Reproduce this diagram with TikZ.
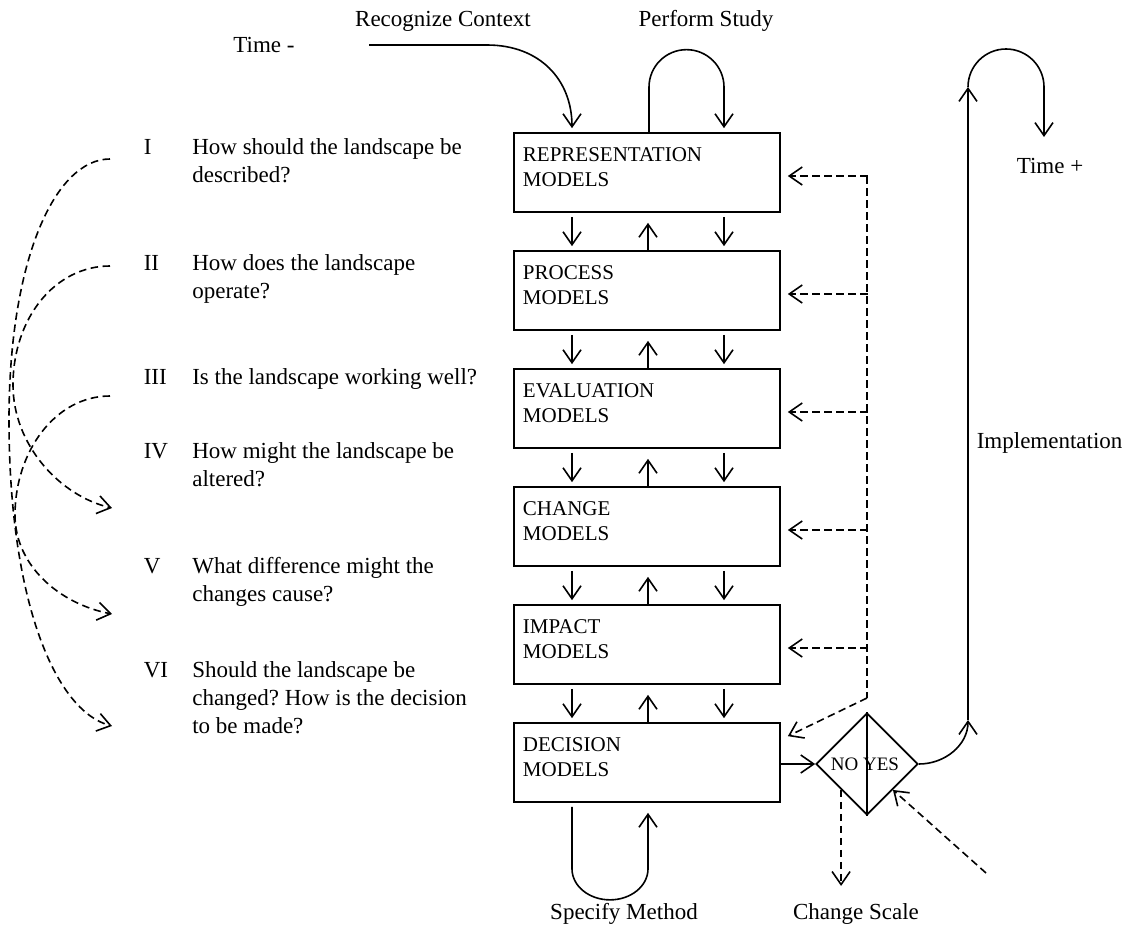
\documentclass[tikz,border=0pt]{standalone}
\usepackage{fontspec}
\setmainfont{Liberation Serif}
\frenchspacing
\usetikzlibrary{arrows.meta,shapes.geometric,calc}
\begin{document}
\begin{tikzpicture}[x=1pt,y=1pt,
  line width=1.6pt,
  arr/.style={-{Straight Barb[length=13pt,width=18pt,line width=1.6pt]}},
  dsh/.style={dash pattern=on 7.5pt off 4.5pt},
  box/.style={draw, line width=1.7pt, minimum width=266pt, minimum height=79pt, inner sep=0pt},
  lab/.style={inner sep=0pt, font=\fontsize{23}{26}\selectfont},
  btxt/.style={inner sep=0pt, anchor=base west, font=\fontsize{21}{25}\selectfont},
]
\useasboundingbox (0,0) rectangle (1140,-926);

% boxes
\foreach \n/\k in {rep/0, pro/1, eva/2, cha/3, imp/4, dec/5}
  \node[box] (\n) at (647,{-172.5-118*\k}) {};
\foreach \n/\t in {rep/REPRESENTATION, pro/PROCESS, eva/EVALUATION, cha/CHANGE, imp/IMPACT, dec/DECISION}{
  \node[btxt] (\n-a) at ($(\n.north west)+(9,-29)$) {\t};
  \node[btxt] (\n-b) at ($(\n.north west)+(9,-54)$) {MODELS};
}

% arrows between boxes
\foreach \a/\b in {rep/pro, pro/eva, eva/cha, cha/imp, imp/dec}{
  \draw[arr] ($(\a.south)+(-75,-4)$) -- ($(\b.north)+(-75,4)$);
  \draw[arr] ($(\b.north)+(1,0)$) -- ($(\a.south)+(1,-10)$);
  \draw[arr] ($(\a.south)+(77,-4)$) -- ($(\b.north)+(77,4)$);
}

% top labels and loops
\node[lab,anchor=base] (rc) at (443,-26) {Recognize Context};
\node[lab,anchor=base] (ps) at (706,-26) {Perform Study};
\node[lab,anchor=base] (tm) at (264,-52) {Time -};
\coordinate (tl) at (369,-45);
\draw[arr] (tl) -- (487,-45) .. controls (540,-45) and (572,-80) .. ($(rep.north)+(-75,4)$);
\draw[arr] ($(rep.north)+(2,0)$) -- ++(0,45) arc[start angle=180,end angle=0,radius=37.5] -- ($(rep.north)+(77,4)$);

% decision loop
\draw[arr] ($(dec.south)+(-75,-4)$) -- ++(0,-62) arc[start angle=180,end angle=360,x radius=38,y radius=31] -- ($(dec.south)+(1,-10)$);
\node[lab,anchor=base] (sm) at (624,-919) {Specify Method};

% right dashed feedback
\coordinate (vt) at (867,-176);
\coordinate (vb) at (867,-698);
\draw[dsh] (vt) -- (vb);
\foreach \n in {rep,pro,eva,cha,imp}
  \draw[dsh,arr] ($(\n.east)+(87,-3.5)$) -- ($(\n.east)+(7,-3.5)$);
\draw[dsh,arr] (vb) -- ($(dec.north east)+(7,-14)$);

% diamond
\node[draw, diamond, minimum width=102pt, minimum height=102pt, inner sep=0pt, line width=1.7pt] (dia) at (867,-764) {};
\draw (dia.north) -- (dia.south);
\node[inner sep=0pt, font=\fontsize{19}{21}\selectfont] (ny) at (865,-764) {NO YES};
\draw[arr] (dec.east |- dia.west) -- (dia.west);
\draw[dsh,arr] ($(dia.west)!0.5!(dia.south)$) -- ++(0,-96);
\node[lab,anchor=base] (cs) at (856,-919) {Change Scale};
\coordinate (cst) at (986,-873);
\draw[dsh,arr] (cst) -- (dia.south east);

% implementation
\coordinate (j) at (968,-720);
\coordinate (jt) at (968,-87);
\draw[arr] (dia.east) .. controls (945,-764) and (968,-745) .. (j);
\draw[arr] (j) -- (jt);
\draw[arr] (jt) arc[start angle=180,end angle=0,radius=38] -- ++(0,-50);
\node[lab,anchor=base] (tp) at (1050,-173) {Time +};
\node[lab,anchor=base west] (impl) at (976,-448) {Implementation};

% left questions
\node[lab,anchor=base west] (n1) at (143,-154) {I};
\node[lab,anchor=base west] (q1a) at (191.5,-154) {How should the landscape be};
\node[lab,anchor=base west] (q1b) at (191.5,-182) {described?};
\node[lab,anchor=base west] (n2) at (143,-270) {II};
\node[lab,anchor=base west] (q2a) at (191.5,-270) {How does the landscape};
\node[lab,anchor=base west] (q2b) at (191.5,-298) {operate?};
\node[lab,anchor=base west] (n3) at (143,-384) {III};
\node[lab,anchor=base west] (q3a) at (191.5,-384) {Is the landscape working well?};
\node[lab,anchor=base west] (n4) at (143,-458) {IV};
\node[lab,anchor=base west] (q4a) at (191.5,-458) {How might the landscape be};
\node[lab,anchor=base west] (q4b) at (191.5,-486) {altered?};
\node[lab,anchor=base west] (n5) at (143,-573) {V};
\node[lab,anchor=base west] (q5a) at (191.5,-573) {What difference might the};
\node[lab,anchor=base west] (q5b) at (191.5,-601) {changes cause?};
\node[lab,anchor=base west] (n6) at (143,-677) {VI};
\node[lab,anchor=base west] (q6a) at (191.5,-677) {Should the landscape be};
\node[lab,anchor=base west] (q6b) at (191.5,-705) {changed? How is the decision};
\node[lab,anchor=base west] (q6c) at (191.5,-733) {to be made?};

% left dashed curves
\coordinate (s1) at (110,-159);
\coordinate (s2) at (110,-266);
\coordinate (s3) at (110,-396);
\coordinate (e1) at (112,-508);
\coordinate (e2) at (112,-614);
\coordinate (e3) at (112,-726);
\draw[dsh,arr] (s1) .. controls (55,-159) and (9,-260) .. (9,-420) .. controls (9,-600) and (55,-711) .. (e3);
\draw[dsh,arr] (s2) .. controls (55,-266) and (13,-318) .. (13,-385) .. controls (13,-445) and (60,-496) .. (e1);
\draw[dsh,arr] (s3) .. controls (55,-396) and (15,-452) .. (15,-515) .. controls (15,-566) and (60,-604) .. (e2);
\end{tikzpicture}
\end{document}
